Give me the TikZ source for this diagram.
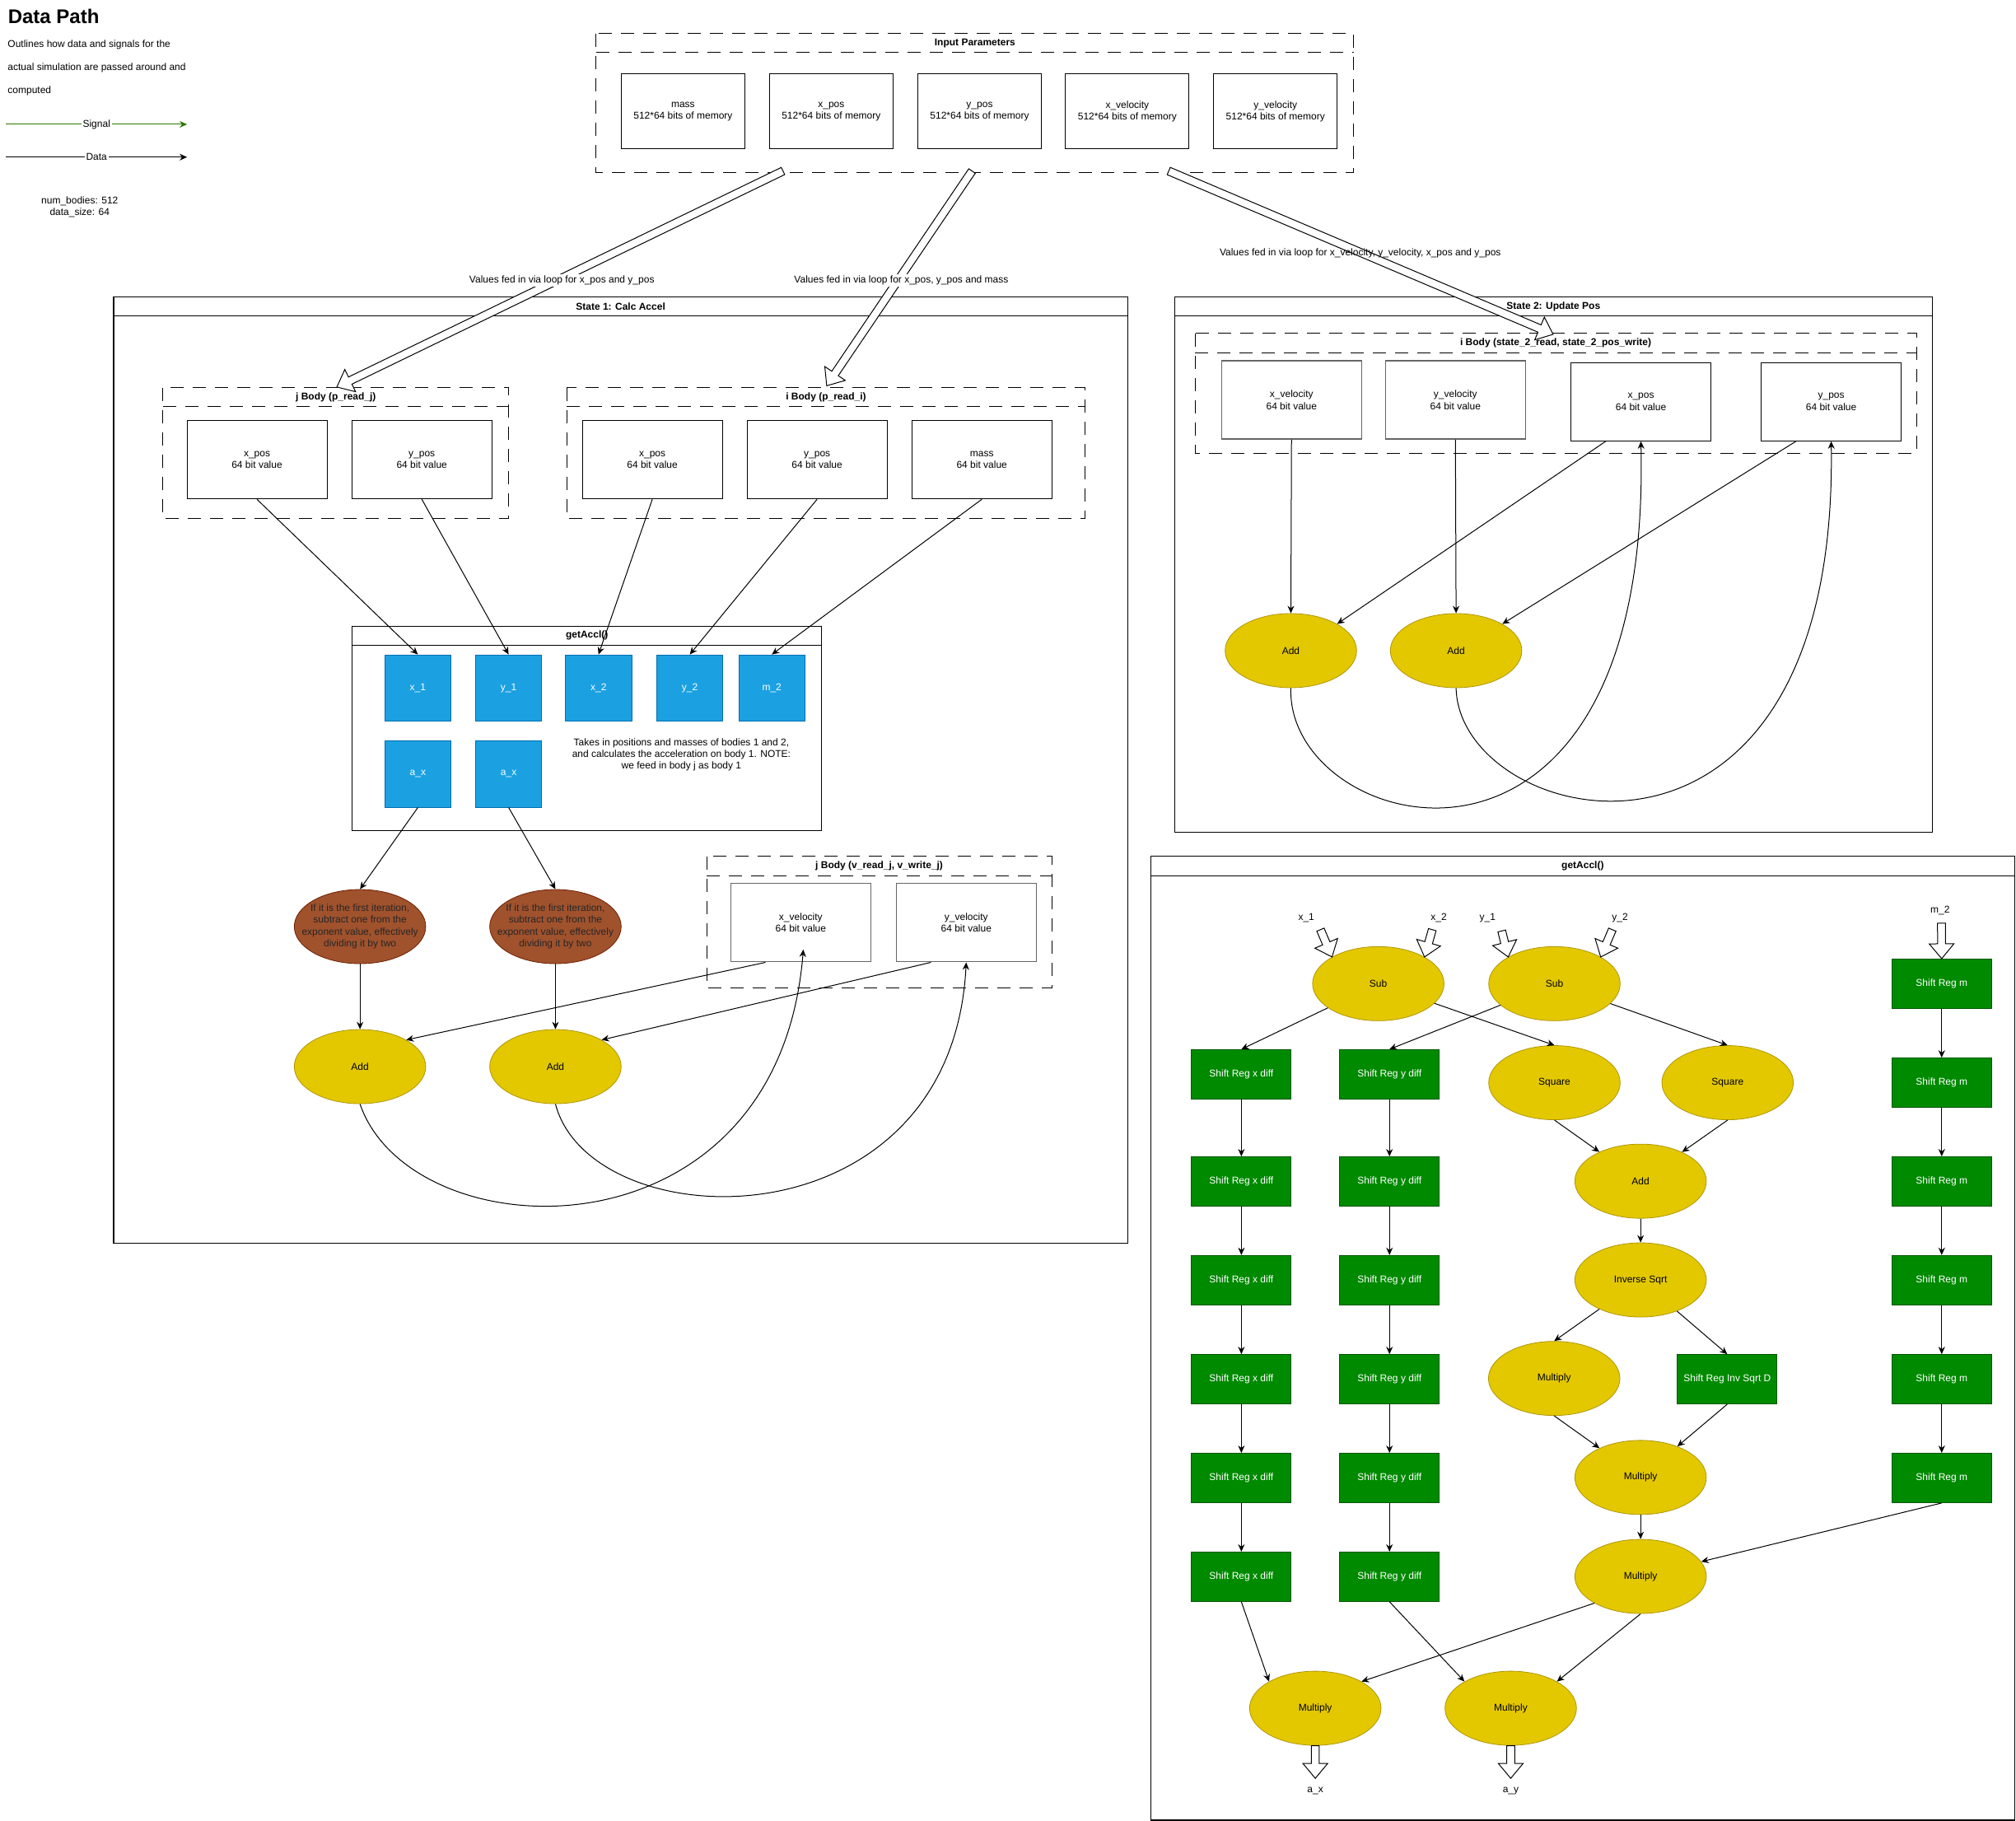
\documentclass[tikz,border=0pt]{standalone}
\usepackage{fontspec}
\setmainfont{Liberation Sans}
\usetikzlibrary{calc,arrows.meta,shapes.geometric}
\definecolor{bluefill}{HTML}{1BA1E2}
\definecolor{bluestroke}{HTML}{006EAF}
\definecolor{yelfill}{HTML}{E3C800}
\definecolor{yelstroke}{HTML}{B09500}
\definecolor{brnfill}{HTML}{A0522D}
\definecolor{brnstroke}{HTML}{6D1F00}
\definecolor{grnfill}{HTML}{008A00}
\definecolor{grnstroke}{HTML}{005700}
\definecolor{sig}{HTML}{2D7600}
\tikzset{
  every node/.style={inner sep=0pt},
  memb/.style={draw, line width=0.5pt, minimum width=75pt, minimum height=45.4pt, align=center},
  valb/.style={draw, line width=0.5pt, minimum width=85pt, minimum height=47.6pt, align=center},
  valg/.style={valb, draw=black!60, line width=0.7pt},
  bsq/.style={draw=bluestroke, fill=bluefill, text=white, minimum width=40.2pt, minimum height=40.2pt},
  yel/.style={ellipse, draw=yelstroke, fill=yelfill, minimum width=79.8pt, minimum height=45pt},
  brn/.style={ellipse, draw=brnstroke, fill=brnfill, minimum width=79.8pt, minimum height=45pt},
  brntext/.style={align=center, text=black!85},
  grn/.style={draw=grnstroke, fill=grnfill, text=white, minimum width=60.5pt, minimum height=30pt},
  arr/.style={draw, line width=0.5pt, -{Stealth[length=4.5pt,width=4pt]}},
  cont/.style={draw, line width=0.6pt},
  dcont/.style={draw, line width=0.5pt, dash pattern=on 8pt off 5.5pt},
  hdr/.style={font=\bfseries\fontsize{6}{7.2}\selectfont},
  flex/.style={draw, fill=white, line width=0.5pt, line join=miter},
  lbl/.style={fill=white, inner sep=1pt}
}
\newcommand\flexarr[2]{%
  \coordinate (fac) at ($(#2)!9pt!(#1)$);
  \draw[flex] ($(#1)!2.4pt!90:(#2)$) -- ($(fac)!2.4pt!-90:(#1)$) -- ($(fac)!7.5pt!-90:(#1)$) -- (#2)
     -- ($(fac)!7.5pt!90:(#1)$) -- ($(fac)!2.4pt!90:(#1)$) -- ($(#1)!2.4pt!-90:(#2)$) -- cycle;
}
\begin{document}
\begin{tikzpicture}[x=0.7806pt,y=-0.7806pt,font=\fontsize{6}{7.2}\selectfont]
\useasboundingbox (0,0) rectangle (1568,1416);

% ---------- header / legend ----------
\node[anchor=west, font=\bfseries\fontsize{12}{14}\selectfont] (title) at (6,12.8) {Data Path};
\node[anchor=west] (d1) at (5.8,34.6) {Outlines how data and signals for the};
\node[anchor=west] (d2) at (5.8,53) {actual simulation are passed around and};
\node[anchor=west] (d3) at (5.8,71) {computed};
\coordinate (sigA) at (4.7,96.7); \coordinate (sigB) at (145.5,96.7);
\coordinate (datA) at (4.7,122.2); \coordinate (datB) at (145.5,122.2);
\draw[arr, sig] (sigA) -- (sigB) node[midway, lbl, text=black] (sigl) {Signal};
\draw[arr] (datA) -- (datB) node[midway, lbl] (datl) {Data};
\node[align=center] (nb) at (62,160.8) {num\_bodies: 512\\data\_size: 64};

% ---------- containers ----------
\draw[dcont] (463.6,26) rectangle (1053,134.5);
\draw[dcont] (463.6,40.6) -- (1053,40.6);
\node[hdr] (iph) at (758.3,33.5) {Input Parameters};

\draw[cont] (88.4,231) rectangle (877,967);
\draw[cont] (88.4,245.5) -- (877,245.5);
\node[hdr] (s1h) at (482.7,238.3) {State 1: Calc Accel};

\draw[cont] (913.5,231) rectangle (1503,647);
\draw[cont] (913.5,245.5) -- (1503,245.5);
\node[hdr] (s2h) at (1208.2,238.3) {State 2: Update Pos};

\draw[dcont] (126.7,301.5) rectangle (395.8,403.5);
\draw[dcont] (126.7,316) -- (395.8,316);
\node[hdr] (jbh) at (261.2,308.8) {j Body (p\_read\_j)};

\draw[dcont] (440.7,301.5) rectangle (844,403.5);
\draw[dcont] (440.7,316) -- (844,316);
\node[hdr] (ibh) at (642.4,308.8) {i Body (p\_read\_i)};

\draw[cont] (274,487) rectangle (639,646);
\draw[cont] (274,501.6) -- (639,501.6);
\node[hdr] (gah) at (456.5,494.3) {getAccl()};

\draw[dcont] (549.6,666) rectangle (818,768.6);
\draw[dcont] (549.6,681) -- (818,681);
\node[hdr] (jvh) at (683.8,673.5) {j Body (v\_read\_j, v\_write\_j)};

\draw[dcont] (929.6,259.4) rectangle (1490.5,352.3);
\draw[dcont] (929.6,274.3) -- (1490.5,274.3);
\node[hdr] (i2h) at (1210,266.9) {i Body (state\_2\_read, state\_2\_pos\_write)};

\draw[cont] (895.3,666) rectangle (1567,1415.5);
\draw[cont] (895.3,681) -- (1567,681);
\node[hdr] (gbh) at (1231,673.5) {getAccl()};

% ---------- input parameters ----------
\node[memb] (pmass) at (531.25,86.65) {mass\\512*64 bits of memory};
\node[memb] (pxpos) at (646.5,86.65) {x\_pos\\512*64 bits of memory};
\node[memb] (pypos) at (761.9,86.65) {y\_pos\\512*64 bits of memory};
\node[memb] (pxvel) at (876.8,86.65) {x\_velocity\\512*64 bits of memory};
\node[memb] (pyvel) at (992,86.65) {y\_velocity\\512*64 bits of memory};

% ---------- state 1 ----------
\node[valb] (jx) at (199.85,357.5) {x\_pos\\64 bit value};
\node[valb] (jy) at (328.1,357.5) {y\_pos\\64 bit value};
\node[valb] (ix) at (507.35,357.5) {x\_pos\\64 bit value};
\node[valb] (iy) at (635.5,357.5) {y\_pos\\64 bit value};
\node[valb] (im) at (763.65,357.5) {mass\\64 bit value};

\node[bsq] (x1) at (325,535) {x\_1};
\node[bsq] (y1) at (395.6,535) {y\_1};
\node[bsq] (x2) at (465.5,535) {x\_2};
\node[bsq] (y2) at (536.5,535) {y\_2};
\node[bsq] (m2) at (600.3,535) {m\_2};
\node[bsq] (ax1) at (325,602) {a\_x};
\node[bsq] (ax2) at (395.6,602) {a\_x};
\node[align=center] (gdesc) at (530,587) {Takes in positions and masses of bodies 1 and 2,\\and calculates the acceleration on body 1. NOTE:\\we feed in body j as body 1};

\node[brn] (br1) at (280,720.6) {};
\node[brntext] (br1t) at (br1.center) {If it is the first iteration,\\subtract one from the\\exponent value, effectively\\dividing it by two};
\node[brn] (br2) at (432,720.6) {};
\node[brntext] (br2t) at (br2.center) {If it is the first iteration,\\subtract one from the\\exponent value, effectively\\dividing it by two};
\node[yel] (a1) at (280,829.5) {Add};
\node[yel] (a2) at (432,829.5) {Add};
\node[valg] (vx) at (622.8,717.5) {x\_velocity\\64 bit value};
\node[valg] (vy) at (751.5,717.5) {y\_velocity\\64 bit value};

\draw[arr] (jx.south) -- (x1.north);
\draw[arr] (jy.south) -- (y1.north);
\draw[arr] (ix.south) -- (x2.north);
\draw[arr] (iy.south) -- (y2.north);
\draw[arr] (im.south) -- (m2.north);
\draw[arr] (ax1.south) -- (br1.north);
\draw[arr] (ax2.south) -- (br2.north);
\draw[arr] (br1.south) -- (a1.north);
\draw[arr] (br2.south) -- (a2.north);
\draw[arr] ($(vx.south west)!0.25!(vx.south east)$) -- (a1.30);
\draw[arr] ($(vy.south west)!0.25!(vy.south east)$) -- (a2.30);
\draw[arr] (a1.south) .. controls (320,975) and (605,985) .. ($(vx.south)+(2,-10)$);
\draw[arr] (a2.south) .. controls (460,965) and (740,972) .. (vy.south);

% ---------- state 2 ----------
\node[valg] (sx) at (1004.5,311) {x\_velocity\\64 bit value};
\node[valg] (sy) at (1132,311) {y\_velocity\\64 bit value};
\node[valb] (spx) at (1276.25,312.4) {x\_pos\\64 bit value};
\node[valb] (spy) at (1424.25,312.4) {y\_pos\\64 bit value};
\node[yel] (s2a1) at (1004,506) {Add};
\node[yel] (s2a2) at (1132.5,506) {Add};
\draw[arr] (sx.south) -- (s2a1.north);
\draw[arr] (sy.south) -- (s2a2.north);
\draw[arr] ($(spx.south west)!0.25!(spx.south east)$) -- (s2a1.30);
\draw[arr] ($(spy.south west)!0.25!(spy.south east)$) -- (s2a2.30);
\draw[arr] (s2a1.south) .. controls (1000,650) and (1285,725) .. (spx.south);
\draw[arr] (s2a2.south) .. controls (1135,645) and (1430,715) .. (spy.south);

% ---------- getAccl detail ----------
\node[yel] (sub1) at (1072,765) {Sub};
\node[yel] (sub2) at (1209,765) {Sub};
\node[yel] (sq1) at (1209,842) {Square};
\node[yel] (sq2) at (1343.7,842) {Square};
\node[yel] (addc) at (1276,918.6) {Add};
\node[yel] (isq) at (1276,995.4) {Inverse Sqrt};
\node[yel] (mul1) at (1208.8,1072) {Multiply};
\node[grn] (srd) at (1343.4,1072.6) {Shift Reg Inv Sqrt D};
\node[yel] (mul2) at (1276,1149) {Multiply};
\node[yel] (mul3) at (1276,1226) {Multiply};
\node[yel] (mulx) at (1023,1328.5) {Multiply};
\node[yel] (muly) at (1175,1328.5) {Multiply};

\foreach \k/\yy in {1/835.5,2/918.8,3/995.5,4/1072.6,5/1149.4,6/1226.2}{
  \node[grn] (srx\k) at (965.5,\yy) {Shift Reg x diff};
  \node[grn] (sry\k) at (1080.7,\yy) {Shift Reg y diff};
}
\foreach \k/\yy in {1/765,2/842,3/918.8,4/995.5,5/1072.6,6/1149.4}{
  \node[grn] (srm\k) at (1510.2,\yy) {Shift Reg m};
}
\foreach \k [evaluate=\k as \n using int(\k+1)] in {1,...,5}{
  \draw[arr] (srx\k.south) -- (srx\n.north);
  \draw[arr] (sry\k.south) -- (sry\n.north);
  \draw[arr] (srm\k.south) -- (srm\n.north);
}
\draw[arr] (sub1) -- (srx1.north);
\draw[arr] (sub1) -- (sq1.north);
\draw[arr] (sub2) -- (sry1.north);
\draw[arr] (sub2) -- (sq2.north);
\draw[arr] (sq1.south) -- (addc);
\draw[arr] (sq2.south) -- (addc);
\draw[arr] (addc) -- (isq);
\draw[arr] (isq) -- (mul1.north);
\draw[arr] (isq) -- (srd.north);
\draw[arr] (mul1.south) -- (mul2);
\draw[arr] (srd.south) -- (mul2);
\draw[arr] (mul2) -- (mul3);
\draw[arr] (srm6.south) -- (mul3);
\draw[arr] (mul3.210) -- (mulx.30);
\draw[arr] (mul3.south) -- (muly.30);
\draw[arr] (srx6.south) -- (mulx.150);
\draw[arr] (sry6.south) -- (muly.150);

\node (lx1) at (1016,714) {x\_1};
\node (lx2) at (1119,714) {x\_2};
\node (ly1) at (1157,714) {y\_1};
\node (ly2) at (1260,714) {y\_2};
\node (lm2) at (1509,708) {m\_2};
\node (lax) at (1023,1393) {a\_x};
\node (lay) at (1175,1393) {a\_y};
\coordinate (inx1) at (1027,723);
\coordinate (inx2) at (1114,723);
\coordinate (iny1) at (1168,724);
\coordinate (iny2) at (1254,723);
\coordinate (inm2) at (1510,718);
\coordinate (outx) at (1023,1383);
\coordinate (outy) at (1175,1383);
\flexarr{inx1}{sub1.150}
\flexarr{inx2}{sub1.30}
\flexarr{iny1}{sub2.150}
\flexarr{iny2}{sub2.30}
\flexarr{inm2}{srm1.north}
\flexarr{mulx.south}{outx}
\flexarr{muly.south}{outy}

% ---------- big feed arrows ----------
\coordinate (fa1s) at (609,133); \coordinate (fa1e) at (262,301);
\coordinate (fa2s) at (756,133); \coordinate (fa2e) at (643,300);
\coordinate (fa3s) at (909,133); \coordinate (fa3e) at (1208,260);
\flexarr{fa1s}{fa1e}
\flexarr{fa2s}{fa2e}
\flexarr{fa3s}{fa3e}
\node[lbl] (lab1) at (437,218) {Values fed in via loop for x\_pos and y\_pos};
\node[lbl] (lab2) at (701,218) {Values fed in via loop for x\_pos, y\_pos and mass};
\node (lab3) at (1058,197) {Values fed in via loop for x\_velocity, y\_velocity, x\_pos and y\_pos};
\end{tikzpicture}
\end{document}
